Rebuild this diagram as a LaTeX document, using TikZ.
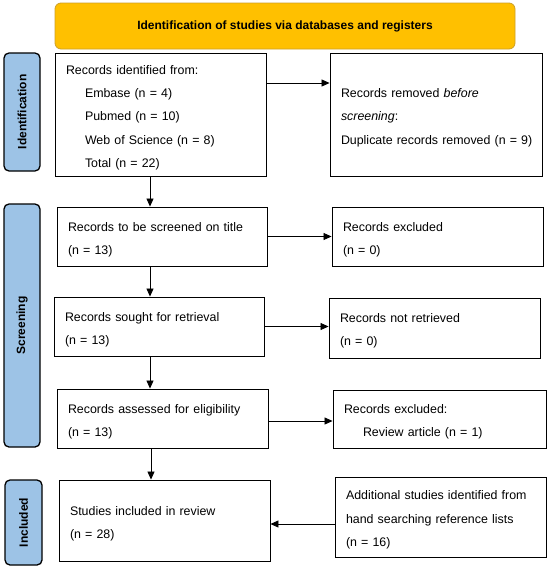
\documentclass[tikz,border=0pt]{standalone}
\usepackage{fontspec}
\setmainfont{Liberation Sans}
\usetikzlibrary{arrows.meta}
\definecolor{bannerfill}{RGB}{255,192,0}
\definecolor{bannerline}{RGB}{205,160,40}
\definecolor{sideblue}{RGB}{157,195,230}
\begin{document}
\begin{tikzpicture}[x=1pt,y=-1pt,
  box/.style={draw, line width=0.9pt, align=left, inner xsep=11pt, inner ysep=0pt,
    font=\fontsize{12.4}{23.3}\selectfont, execute at begin node={\rule{0pt}{15pt}}},
  side/.style={draw, line width=1.3pt, fill=sideblue, rounded corners=5pt, rotate=90,
    font=\bfseries\fontsize{12}{14}\selectfont, inner sep=0pt},
  banner/.style={draw=bannerline, line width=0.8pt, fill=bannerfill, rounded corners=6pt,
    font=\bfseries\fontsize{12}{14}\selectfont, inner sep=0pt},
  arr/.style={line width=0.8pt, -{Triangle[length=8pt,width=7pt]}}]
\useasboundingbox (0,0) rectangle (550,570);

\node[banner, minimum width=460pt, minimum height=46pt] (title) at (285,26)
  {Identification of studies via databases and registers};

\node[side, minimum width=118pt, minimum height=36pt] (sid) at (22,112) {Identification};
\node[side, minimum width=243pt, minimum height=36pt] (sscr) at (22,325.5) {Screening};
\node[side, minimum width=85pt, minimum height=37pt] (sinc) at (23.5,522.5) {Included};

\node[box, text width=189pt, minimum height=123pt] (b1) at (160.5,114.5)
  {Records identified from:\\
   \hspace*{19pt}Embase (n = 4)\\
   \hspace*{19pt}Pubmed (n = 10)\\
   \hspace*{19pt}Web of Science (n = 8)\\
   \hspace*{19pt}Total (n = 22)};
\node[box, text width=190pt, minimum height=123pt] (b2) at (436,114.5)
  {Records removed \emph{before}\\
   \emph{screening}:\\
   \mbox{Duplicate records removed (n = 9)}};
\node[box, text width=188pt, minimum height=59pt] (b3) at (162,236.5)
  {Records to be screened on title\\(n = 13)};
\node[box, text width=189pt, minimum height=59pt] (b4) at (437.5,236.5)
  {Records excluded\\(n = 0)};
\node[box, text width=188pt, minimum height=59pt] (b5) at (159,326.5)
  {Records sought for retrieval\\(n = 13)};
\node[box, text width=189pt, minimum height=60pt] (b6) at (434.5,328)
  {Records not retrieved\\(n = 0)};
\node[box, text width=189pt, minimum height=59pt] (b7) at (162.5,418.5)
  {Records assessed for eligibility\\(n = 13)};
\node[box, text width=191pt, minimum height=58pt] (b8) at (439.5,419)
  {Records excluded:\\\hspace*{19pt}Review article (n = 1)};
\node[box, text width=189pt, minimum height=81pt] (b9) at (164.5,520.5)
  {Studies included in review\\(n = 28)};
\node[box, text width=189pt, minimum height=80pt] (b10) at (440.5,517)
  {\makebox[189pt][s]{Additional studies identified from}\\
   hand searching reference lists\\(n = 16)};

\draw[arr] (b1.east |- 0,83) -- (b2.west |- 0,83);
\draw[arr] (b1.south -| 150,0) -- (b3.north -| 150,0);
\draw[arr] (b3.east) -- (b4.west);
\draw[arr] (b3.south -| 150,0) -- (b5.north -| 150,0);
\draw[arr] (b5.east) -- (b6.west |- b5.east);
\draw[arr] (b5.south -| 150,0) -- (b7.north -| 150,0);
\draw[arr] (b7.east |- 0,421) -- (b8.west |- 0,421);
\draw[arr] (b7.south -| 151,0) -- (b9.north -| 151,0);
\draw[arr] (b10.west |- 0,524) -- (b9.east |- 0,524);
\end{tikzpicture}
\end{document}
